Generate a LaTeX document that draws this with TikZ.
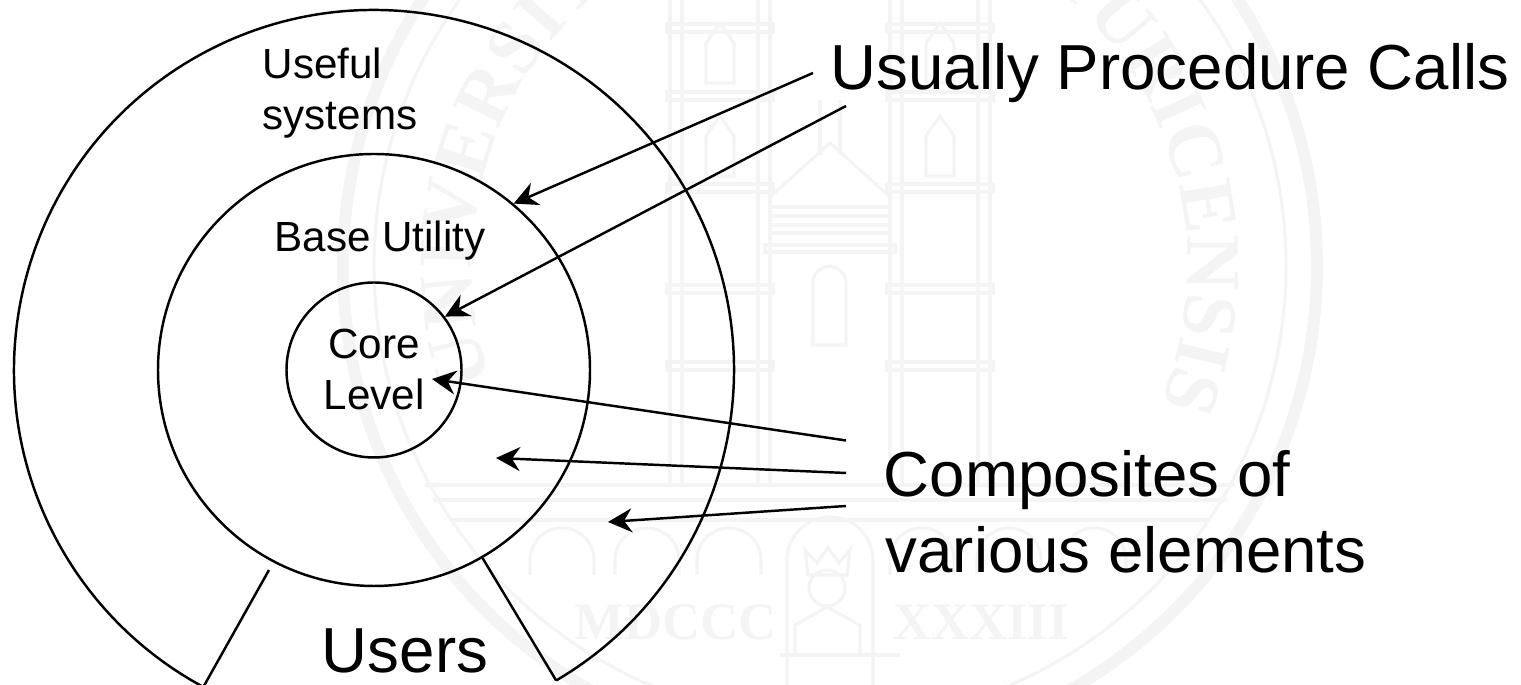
\documentclass[tikz,border=0pt]{standalone}
\usepackage{fontspec}
\setmainfont{Liberation Sans}
\newfontfamily\sealfont{Liberation Serif}
\usetikzlibrary{calc, arrows.meta, decorations.text}

\definecolor{sealgray}{gray}{0.955}

\tikzset{
    ring/.style={circle, draw, line width=0.7pt, inner sep=0pt},
    small label/.style={font=\fontsize{12}{14.2}\selectfont, align=center, inner sep=0pt},
    big label/.style={font=\fontsize{18.1}{21.6}\selectfont, align=left, inner sep=0pt},
    seal/.style={draw=sealgray, line width=0.9pt},
    call/.style={-{Stealth[length=2.4mm, width=2.4mm, inset=0.8mm]}, line width=0.7pt}
}

\begin{document}
\begin{tikzpicture}
    \useasboundingbox (0,0) rectangle (15.21,6.85);

    % seal in the background
    \begin{scope}
        \clip (0,0) rectangle (15.21,6.85);
        \coordinate (Seal) at (8.30,4.19);
        \draw[seal, line width=3.4pt] (Seal) circle (4.87);
        \draw[seal] (Seal) circle (4.56);

        \path[decorate, decoration={text along path, text align={fit to path},
            text={|\fontsize{22}{22}\sealfont\bfseries\color{sealgray}|UNIVERSITAS}}]
            ([shift={(199:3.58)}]Seal) arc[start angle=199, end angle=112, radius=3.58];
        \path[decorate, decoration={text along path, text align={fit to path},
            text={|\fontsize{22}{22}\sealfont\bfseries\color{sealgray}|TURICENSIS}}]
            ([shift={(53:3.58)}]Seal) arc[start angle=53, end angle=-22, radius=3.58];

        % towers
        \foreach \tx in {6.7,8.9} {
            \foreach \dx in {0,0.12,0.88,1} {
                \draw[seal] (\tx+\dx,2.00) -- (\tx+\dx,6.85);
            }
            \foreach \cy in {3.15,3.92,4.93,5.85,6.53} {
                \draw[seal] (\tx-0.03,\cy) rectangle (\tx+1.03,\cy+0.08);
            }
            \foreach \wy in {4.99,5.92} {
                \draw[seal] (\tx+0.36,\wy+0.1) -- ++(0,0.4) -- ++(0.14,0.2) -- ++(0.14,-0.2) -- ++(0,-0.4) -- cycle;
            }
        }

        % nave
        \draw[seal] (7.7,4.88) -- (8.30,5.42) -- (8.9,4.88);
        \draw[seal] (8.2,5.3) -- (8.2,5.85) (8.4,5.3) -- (8.4,5.85);
        \foreach \ny in {4.78,4.69,4.60,4.52} {
            \draw[seal] (7.7,\ny) -- (8.9,\ny);
        }
        \draw[seal] (7.65,4.40) rectangle (8.95,4.33);
        \draw[seal] (8.13,3.40) -- (8.13,4.02) arc[start angle=180, end angle=0, radius=0.165] -- (8.46,3.40) -- cycle;

        % base of the church
        \foreach \by/\bx in {2.00/4.25,1.85/4.33,1.65/4.50} {
            \draw[seal] (\bx,\by) -- (16.60-\bx,\by);
        }
        \foreach \ax in {5.30,6.15,6.97,8.90,9.77,10.62} {
            \draw[seal] (\ax,1.10) -- (\ax,1.25) arc[start angle=180, end angle=0, radius=0.32] -- (\ax+0.64,1.10);
        }

        % king
        \draw[seal] (7.87,0) -- (7.87,1.25) arc[start angle=180, end angle=0, radius=0.43] -- (8.73,0);
        \draw[seal] (8.08,1.10) -- (8.05,1.35) -- (8.17,1.22) -- (8.28,1.38) -- (8.39,1.22) -- (8.50,1.35) -- (8.47,1.10) -- cycle;
        \draw[seal] (8.27,0.97) circle (0.18);
        \draw[seal] (7.95,0.30) -- (7.95,0.60) -- (8.27,0.78) -- (8.60,0.60) -- (8.60,0.30);
        \draw[seal] (7.80,0.30) -- (9.00,0.30);

        \node (Seal_MDCCC) at (6.76,0.45) [anchor=base, inner sep=0pt, text=sealgray, font=\fontsize{15}{15}\sealfont\bfseries] {MDCCC};
        \node (Seal_XXXIII) at (9.81,0.45) [anchor=base, inner sep=0pt, text=sealgray, font=\fontsize{15}{15}\sealfont\bfseries] {XXXIII};
    \end{scope}

    % define circles
    \coordinate (Center) at (3.74,3.15);
    \node (Base) at (Center) [ring, minimum size=4.32cm] {};
    \node (Core) at (Center) [ring, minimum size=1.75cm] {};

    % outer arc, open at the bottom
    \coordinate (Outer_right) at ([shift={(-59.6:3.60)}]Center);
    \coordinate (Outer_left) at ([shift={(241.7:3.60)}]Center);
    \draw[line width=0.7pt] (Outer_right) arc[start angle=-59.6, end angle=241.7, radius=3.60];

    % users gap
    \coordinate (Users_left) at ([shift={(242.3:2.26)}]Center);
    \draw[line width=0.7pt] (Users_left) -- (Outer_left);
    \draw[line width=0.7pt] (Base.-60) -- (Outer_right);

    % labels
    \node (Useful) at (2.62,6.06) [small label, anchor=base west, align=left] {Useful};
    \node (Systems) at (2.62,5.55) [small label, anchor=base west] {systems};
    \node (Utility) at (3.80,4.33) [small label, anchor=base] {Base Utility};
    \node (Core_text) at (3.74,3.26) [small label, anchor=base] {Core};
    \node (Level_text) at (3.74,2.75) [small label, anchor=base] {Level};
    \node (Users) at (4.05,0.12) [big label, anchor=base] {Users};
    \node (Calls) at (8.30,5.95) [big label, anchor=base west] {Usually Procedure Calls};
    \node (Composites) at (8.83,1.88) [big label, anchor=base west] {Composites of};
    \node (Elements) at (8.85,1.12) [big label, anchor=base west] {various elements};

    % usually procedure calls
    \coordinate (Calls_upper) at (8.13,6.12);
    \coordinate (Calls_lower) at (8.46,5.79);
    \draw[call] (Calls_upper) -- (Base.50);
    \draw[call] (Calls_lower) -- (Core.37);

    % composites
    \coordinate (Comp_upper) at (8.46,2.445);
    \coordinate (Comp_middle) at (8.46,2.12);
    \coordinate (Comp_lower) at (8.46,1.79);
    \coordinate (Comp_core) at (4.32,3.06);
    \coordinate (Comp_base) at (4.96,2.27);
    \coordinate (Comp_useful) at (6.08,1.63);
    \draw[call] (Comp_upper) -- (Comp_core);
    \draw[call] (Comp_middle) -- (Comp_base);
    \draw[call] (Comp_lower) -- (Comp_useful);
\end{tikzpicture}
\end{document}
